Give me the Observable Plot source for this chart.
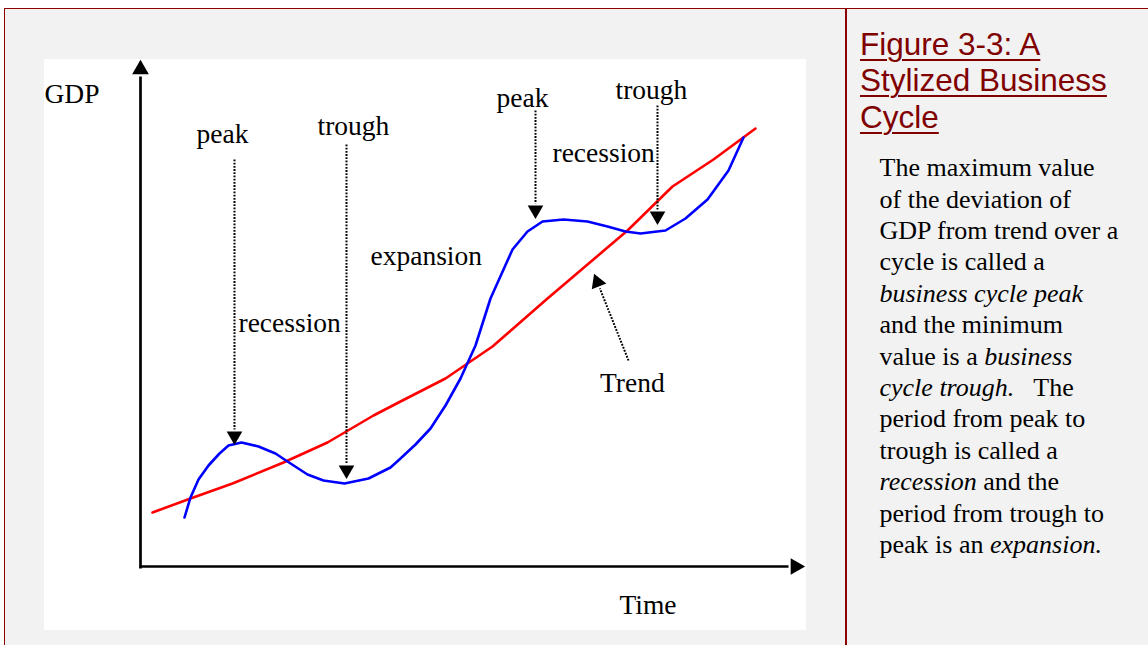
<!DOCTYPE html>
<html>
<head>
<meta charset="utf-8">
<script src="https://cdn.jsdelivr.net/npm/d3@7"></script>
<script src="https://cdn.jsdelivr.net/npm/@observablehq/plot@0.6"></script>
<style>
  html, body { margin: 0; padding: 0; background: #ffffff; }
  body { width: 1148px; height: 645px; overflow: hidden; position: relative; }
  #frame { position: absolute; left: 4px; top: 8px; width: 1160px; height: 660px;
           border-top: 1.5px solid #8b0000; border-left: 1.5px solid #8b0000; background: #f2f2f2; }
  #sep { position: absolute; left: 845px; top: 8px; width: 1.5px; height: 650px; background: #8b0000; }
  #chart { position: absolute; left: 44px; top: 59px; width: 762px; height: 571px; background: #ffffff; }
  #title { position: absolute; left: 860px; top: 25.7px; font-family: "Liberation Sans", Arial, sans-serif;
           font-size: 31.5px; line-height: 36.7px; color: #800000; text-decoration: underline;
           text-decoration-thickness: 2px; text-underline-offset: 4px; white-space: nowrap; }
  #note { position: absolute; left: 879.5px; top: 152.2px; font-family: "Liberation Serif", "Times New Roman", Times, serif;
          font-size: 26px; line-height: 31.4px; color: #000; white-space: nowrap; }
  #note i { font-family: "Liberation Serif", "Times New Roman", Times, serif; font-style: italic; }
</style>
</head>
<body>
<div id="frame"></div>
<div id="sep"></div>
<div id="chart"></div>
<div id="title">Figure 3-3: A<br>Stylized Business<br>Cycle</div>
<div id="note">The maximum value<br>of the deviation of<br>GDP from trend over a<br>cycle is called a<br><i>business cycle peak</i><br>and the minimum<br>value is a <i>business</i><br><i>cycle trough.</i>&nbsp;&nbsp; The<br>period from peak to<br>trough is called a<br><i>recession</i> and the<br>period from trough to<br>peak is an <i>expansion.</i></div>
<script>
// ---- Data (time and GDP in arbitrary stylized units) ----
const cycleTime = [44, 50, 58, 68, 79, 88, 101, 118, 135, 147, 167, 183, 204, 228, 250, 260, 275, 290, 305, 320, 335, 350, 372, 387, 402, 423, 447, 467, 485, 500, 525, 545, 567, 588, 603];
const cycleGDP  = [51, 71, 89, 103, 115, 123, 126, 122, 115, 107, 94, 88, 85, 90, 101, 110, 124, 140, 163, 190, 223, 270, 319, 337, 347, 349, 347, 342, 337, 335, 338, 350, 369, 398, 431];

const trendTime = [12, 50, 92, 143, 187, 233, 260, 305, 352, 407, 487, 532, 573, 615];
const trendGDP  = [56, 70, 85, 106, 126, 153, 167, 190, 222, 270, 338, 382, 409, 440];

// annotation labels
const labelText = ["GDP", "peak", "trough", "expansion", "recession", "peak", "trough", "recession", "Trend", "Time"];
const labelTime = [-96, 56, 177, 230, 98, 356, 475, 412, 459.5, 479];
const labelGDP  = [474, 434, 442, 312, 245, 470, 478, 415, 185, -37];

// dotted pointer arrows: from (t1,g1) to tip (t2,g2)
const arrowT1 = [94, 206, 395, 517, 488];
const arrowG1 = [409, 424, 458, 463, 208];
const arrowT2 = [94, 206, 395, 517, 454.5];
const arrowG2 = [126, 92, 352, 346, 292.3];

// axes arrows
const axisT1 = [0, -1];
const axisG1 = [0, 2];
const axisT2 = [0, 662];
const axisG2 = [506, 2];

// ---- Build tables ----
const cycle = cycleTime.map((t, i) => ({t, g: cycleGDP[i]}));
const trend = trendTime.map((t, i) => ({t, g: trendGDP[i]}));
const labels = labelText.map((text, i) => ({text, t: labelTime[i], g: labelGDP[i]}));
function makeArrows(T1, G1, T2, G2, back) {
  return T1.map((t1, i) => {
    const t2 = T2[i], g2 = G2[i], g1 = G1[i];
    const dt = t2 - t1, dg = g2 - g1, len = Math.hypot(dt, dg);
    return {t1, g1, t2, g2,
      ht: t2 - back * dt / len, hg: g2 - back * dg / len,
      lt: t2 - 2 * back * dt / len, lg: g2 - 2 * back * dg / len,
      rot: Math.atan2(dt, dg) * 180 / Math.PI};
  });
}
const arrows = makeArrows(arrowT1, arrowG1, arrowT2, arrowG2, 6.5);
const axes = makeArrows(axisT1, axisG1, axisT2, axisG2, 7);

const chart = Plot.plot({
  width: 762,
  height: 571,
  margin: 0,
  style: {background: "transparent", overflow: "visible"},
  x: {domain: [0, 663], range: [96, 759], axis: null},
  y: {domain: [0, 506], range: [509, 3], axis: null},
  marks: [
    // axes
    Plot.link(axes, {x1: "t1", y1: "g1", x2: "lt", y2: "lg", stroke: "#000", strokeWidth: 2.7}),
    Plot.dot(axes, {x: "ht", y: "hg", symbol: "triangle", r: 6.2, fill: "#000", stroke: "none", rotate: "rot"}),
    // series
    Plot.line(trend, {x: "t", y: "g", stroke: "#ff0000", strokeWidth: 2.6}),
    Plot.line(cycle, {x: "t", y: "g", stroke: "#0000ff", strokeWidth: 2.6}),
    // dotted pointers
    Plot.link(arrows, {x1: "t1", y1: "g1", x2: "lt", y2: "lg", stroke: "#000", strokeWidth: 2, strokeDasharray: "1.8,1.4"}),
    Plot.dot(arrows, {x: "ht", y: "hg", symbol: "triangle", r: 5.8, fill: "#000", stroke: "none", rotate: "rot"}),
    // labels
    Plot.text(labels, {x: "t", y: "g", text: "text", textAnchor: "start", lineAnchor: "middle",
      fontFamily: "Liberation Serif, Times New Roman, serif", fontSize: 27.5, fill: "#000"})
  ]
});
document.getElementById("chart").appendChild(chart);
</script>
</body>
</html>
